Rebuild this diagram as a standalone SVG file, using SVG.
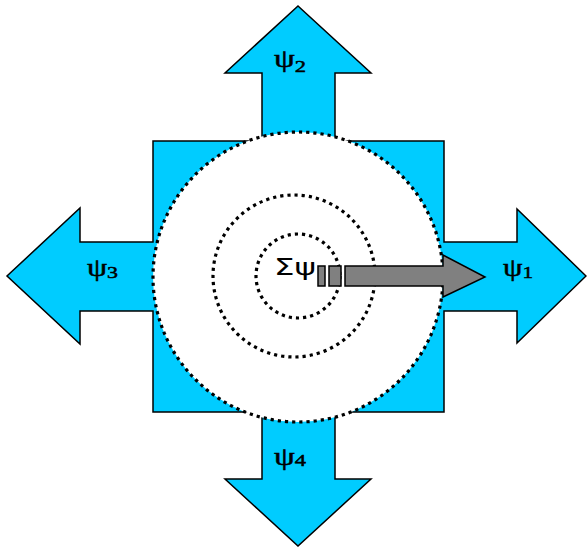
<svg xmlns="http://www.w3.org/2000/svg" width="587" height="547" viewBox="0 0 587 547">
<style>
.shape{fill:#00CCFF;stroke:#000;stroke-width:1.5;stroke-linejoin:miter}
.ring{fill:none;stroke:#000;stroke-width:3.2;stroke-dasharray:3.2 4}
.gray{fill:#808080;stroke:#000;stroke-width:1.5}
.lbl{font-family:"Liberation Serif",serif;font-size:25px;fill:#000;stroke:#000;stroke-width:0.5}
.sub{font-size:17px}
.sum{font-family:"DejaVu Sans",sans-serif;font-size:23px;fill:#000}
</style>
<rect width="587" height="547" fill="#fff"/>
<g id="cross">
<polygon class="shape" points="298,6 371,73 335,73 335,141 444,141 444,242 517,242 517,209 586,276 517,343 517,311 444,311 444,412 335,412 335,479 371,479 298,546 225,479 262,479 262,412 153,412 153,311 80,311 80,344 7,276 80,208 80,242 153,242 153,141 262,141 262,73 225,73"/>
</g>
<g id="field">
<circle cx="298" cy="277" r="145" fill="#fff" stroke="none"/>
<circle class="ring" cx="298" cy="277" r="145"/>
<circle class="ring" cx="294" cy="276" r="81"/>
<circle class="ring" cx="298" cy="276" r="42"/>
</g>
<g id="connectors">
<polygon class="gray" points="345,266 443,266 443,255 485,277 443,297 443,286 345,286"/>
<rect class="gray" x="318" y="266" width="7" height="20"/>
<rect class="gray" x="329" y="266" width="12" height="20"/>
</g>
<g id="labels">
<text class="sum" x="274" y="275" textLength="42" lengthAdjust="spacingAndGlyphs">Σψ</text>
<text class="lbl" x="274" y="67" textLength="32" lengthAdjust="spacingAndGlyphs">ψ<tspan class="sub" y="72">2</tspan></text>
<text class="lbl" x="87" y="276" textLength="31" lengthAdjust="spacingAndGlyphs">ψ<tspan class="sub" y="278">3</tspan></text>
<text class="lbl" x="503" y="276" textLength="30" lengthAdjust="spacingAndGlyphs">ψ<tspan class="sub" y="278">1</tspan></text>
<text class="lbl" x="274" y="465" textLength="32" lengthAdjust="spacingAndGlyphs">ψ<tspan class="sub" y="466">4</tspan></text>
</g>
</svg>
